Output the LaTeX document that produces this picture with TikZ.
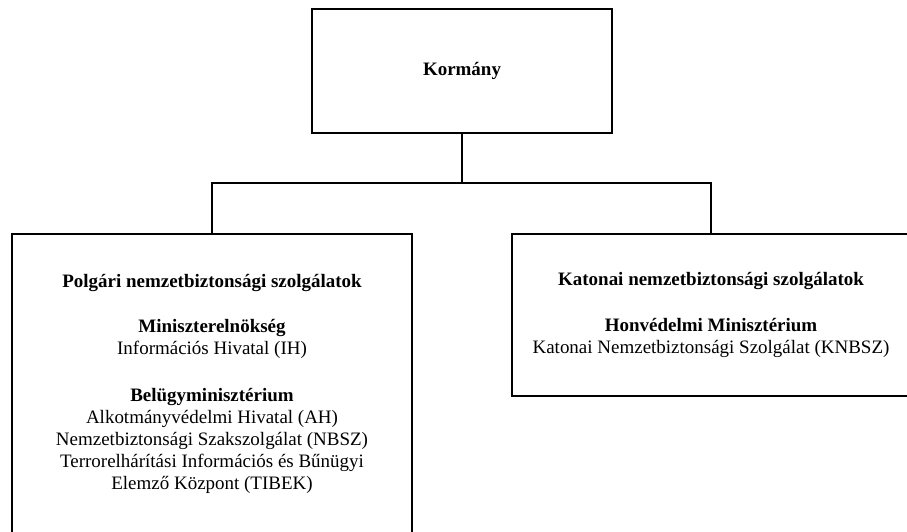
\documentclass[tikz,border=0pt]{standalone}
\usepackage{fontspec}
\setmainfont{Liberation Serif}
\usetikzlibrary{positioning}

\tikzset{
  unit/.style={draw, line width=1.2pt, align=center, inner sep=2pt,
    font=\fontsize{10.8}{12.5}\selectfont},
  link/.style={line width=1.2pt}
}

\begin{document}
\begin{tikzpicture}
        \useasboundingbox (0,0) rectangle (18.14,10.62);
        \clip (0,0) rectangle (18.14,10.62);
        \node[unit, minimum width=6cm, minimum height=2.48cm] (korm) at (9.24,9.20) {\textbf{Kormány}};
        \node[unit, minimum width=8cm, minimum height=5.98cm] (polg) at (4.24,2.95)
          {\textbf{Polgári nemzetbiztonsági szolgálatok}\\[13.5pt]
           \textbf{Miniszterelnökség}\\
           Információs Hivatal (IH)\\[14pt]
           \textbf{Belügyminisztérium}\\
           Alkotmányvédelmi Hivatal (AH)\\
           Nemzetbiztonsági Szakszolgálat (NBSZ)\\
           Terrorelhárítási Információs és Bűnügyi\\
           Elemző Központ (TIBEK)};
        \node[unit, minimum width=7.96cm, minimum height=3.24cm] (kat) at (14.22,4.32)
          {\textbf{Katonai nemzetbiztonsági szolgálatok}\\[13.5pt]
           \textbf{Honvédelmi Minisztérium}\\
           Katonai Nemzetbiztonsági Szolgálat (KNBSZ)};
        \coordinate (split) at (9.24,6.96);
        \draw[link] (korm.south) -- (split);
        \draw[link] (polg.north) |- (split) -| (kat.north);
        \end{tikzpicture}
\end{document}
